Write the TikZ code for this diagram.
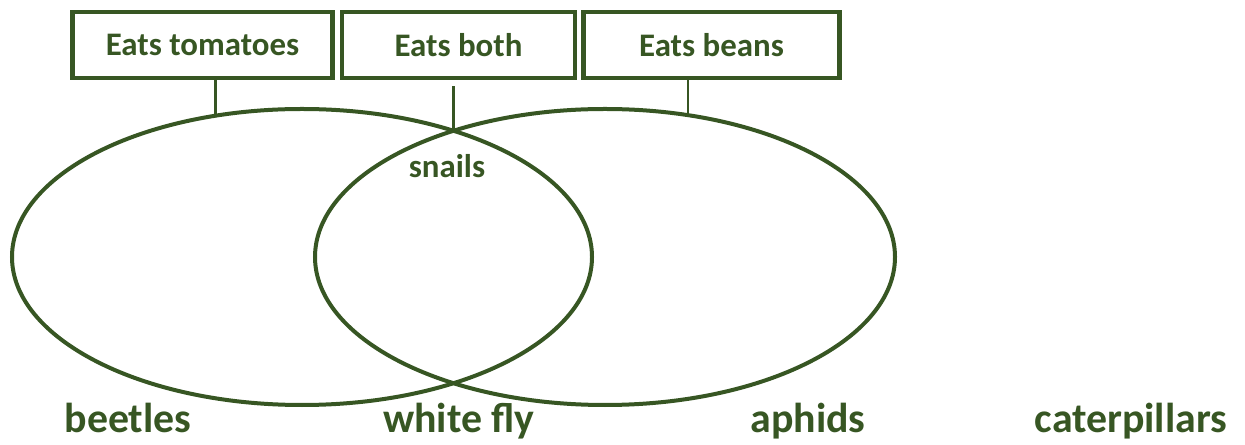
\documentclass[tikz,border=0pt]{standalone}
\usepackage{fontspec}
\setmainfont{Carlito}
\usepackage{tikz}
\usetikzlibrary{shapes.geometric, positioning}
\definecolor{venngreen}{RGB}{55,86,35}
\tikzset{
  %% ---- boxes ----
  catbox/.style   = {rectangle, draw=venngreen, line width=4.5bp,
                     fill=white, minimum width=#1, minimum height=66bp,
                     inner sep=0pt, text=venngreen,
                     font=\fontsize{33}{38}\selectfont\bfseries},
  catbox/.default = 240bp,
  setring/.style  = {ellipse, draw=venngreen, line width=4bp,
                     minimum width=580bp, minimum height=296bp, inner sep=0pt},
  %% ---- labels ----
  animal/.style   = {text=venngreen, anchor=base, inner sep=0pt,
                     font=\fontsize{42}{48}\selectfont\bfseries},
  %% ---- lines ----
  tie/.style      = {draw=venngreen, line width=2.8bp},
}

\begin{document}
\begin{tikzpicture}[x=1bp, y=-1bp]
\useasboundingbox (0,0) rectangle (1245,445);
% sets
\node[setring] (tomatoes) at (302,257) {};
\node[setring] (beans)    at (605,257) {};
\coordinate (crosstop) at (453.5,131);
% headings
\node[catbox=260bp] (tombox) at (202.5,45) {Eats tomatoes};
\node[catbox=233bp, right=5bp of tombox] (bothbox) {Eats both};
\node[catbox=256bp, right=4bp of bothbox] (beanbox) {Eats beans};
\draw[tie] (tomatoes.121 |- tombox.south) -- (tomatoes.121);
\draw[tie] ([yshift=-6bp]bothbox.south -| crosstop) -- (crosstop);
\draw[tie] (beans.60 |- beanbox.south) -- (beans.60);
% animals
\node[animal, font=\fontsize{33}{38}\selectfont\bfseries] (snails) at (447,178) {snails};
\node[animal] (beetles) at (128,433)  {beetles};
\node[animal] (whitefly) at (459,433) {white fly};
\node[animal] (aphids) at (808,433)   {aphids};
\node[animal] (caterpillars) at (1131,433) {caterpillars};
\end{tikzpicture}
\end{document}
